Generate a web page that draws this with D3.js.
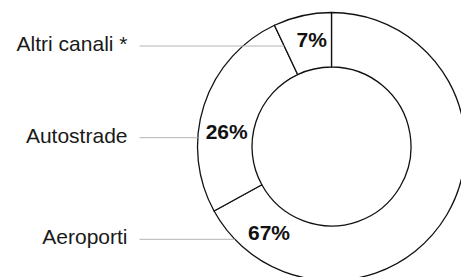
<!DOCTYPE html>
<html>
<head>
<meta charset="utf-8">
<script src="https://cdn.jsdelivr.net/npm/d3@7"></script>
<style>
  html, body { margin: 0; padding: 0; background: #fff; }
  svg { display: block; }
</style>
</head>
<body>
<svg id="chart" width="461" height="277"></svg>
<script>
// ---- data ----
const categories = ["Aeroporti", "Autostrade", "Altri canali *"];
const values = [67, 26, 7];
const valueLabels = ["67%", "26%", "7%"];

// ---- layout ----
const W = 461, H = 277;
const cx = 331.5, cy = 146.5;
const rOuter = 134, rInner = 79.5;
const leaderY = [239.3, 137.7, 46];          // y of each leader line
const pctLabelPos = [[269, 240], [226.7, 138.5], [311.7, 47.3]];
const labelRight = 127.5, leaderStart = 139.5;

const svg = d3.select("#chart");
const g = svg.append("g").attr("transform", `translate(${cx},${cy})`);

const pie = d3.pie().sort(null).value(d => d).startAngle(0).endAngle(2 * Math.PI);
const arcs = pie(values);
const arc = d3.arc().innerRadius(rInner).outerRadius(rOuter);

g.selectAll("path.slice")
  .data(arcs)
  .join("path")
  .attr("class", "slice")
  .attr("d", arc)
  .attr("fill", "#fff")
  .attr("stroke", "#111")
  .attr("stroke-width", 1.3)
  .attr("stroke-linejoin", "round");

// compute where a horizontal line at y (relative) from the left first touches the slice
function leaderEnd(a, yRel) {
  // point on outer circle (left side)
  const dx = Math.sqrt(Math.max(0, rOuter * rOuter - yRel * yRel));
  const xo = -dx;
  // angle (clockwise from top) of outer point
  let ang = Math.atan2(xo, -yRel);
  if (ang < 0) ang += 2 * Math.PI;
  if (ang >= a.startAngle && ang <= a.endAngle) return xo;
  // otherwise intersect with the radial boundaries
  let best = null;
  [a.startAngle, a.endAngle].forEach(t => {
    const sx = Math.sin(t), sy = -Math.cos(t);
    if (Math.abs(sy) < 1e-6) return;
    const r = yRel / sy;
    if (r >= rInner && r <= rOuter) {
      const x = r * sx;
      if (best === null || x < best) best = x;
    }
  });
  return best === null ? xo : best;
}

// leader lines
svg.append("g").selectAll("line")
  .data(arcs)
  .join("line")
  .attr("x1", leaderStart)
  .attr("x2", (d, i) => cx + leaderEnd(d, leaderY[i] - cy))
  .attr("y1", (d, i) => leaderY[i])
  .attr("y2", (d, i) => leaderY[i])
  .attr("stroke", "#b3b3b3")
  .attr("stroke-width", 1);

// category labels
svg.append("g").selectAll("text")
  .data(categories)
  .join("text")
  .attr("x", labelRight)
  .attr("y", (d, i) => leaderY[i] + 5)
  .attr("text-anchor", "end")
  .attr("font-family", "'Liberation Sans', Arial, sans-serif")
  .attr("font-size", 21)
  .attr("fill", "#1a1a1a")
  .text(d => d);

// percentage labels
svg.append("g").selectAll("text")
  .data(valueLabels)
  .join("text")
  .attr("x", (d, i) => pctLabelPos[i][0])
  .attr("y", (d, i) => pctLabelPos[i][1])
  .attr("text-anchor", "middle")
  .attr("font-family", "'Liberation Sans', Arial, sans-serif")
  .attr("font-weight", "bold")
  .attr("font-size", 21)
  .attr("fill", "#111")
  .text(d => d);
</script>
</body>
</html>
